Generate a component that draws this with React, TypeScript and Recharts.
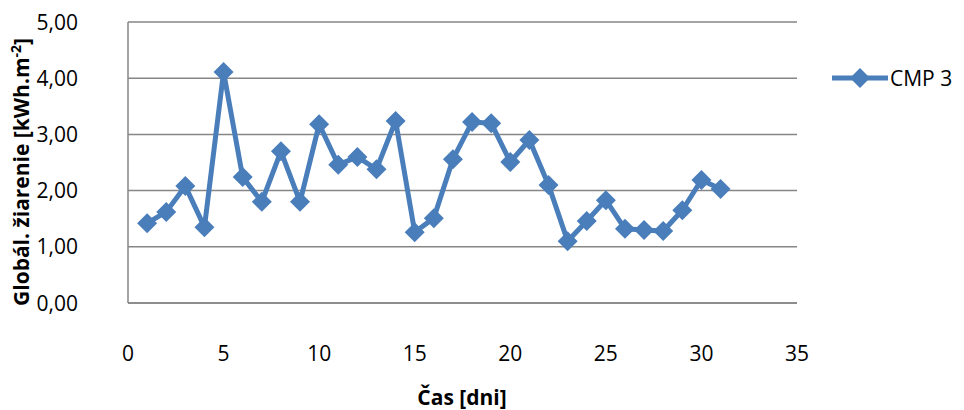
import { CartesianGrid, Line, LineChart, XAxis, YAxis } from "recharts"

const days = [
  1, 2, 3, 4, 5, 6, 7, 8, 9, 10, 11, 12, 13, 14, 15, 16, 17, 18, 19, 20, 21, 22, 23, 24, 25, 26,
  27, 28, 29, 30, 31,
]

const cmp3 = [
  1.42, 1.62, 2.08, 1.35, 4.11, 2.24, 1.8, 2.7, 1.8, 3.18, 2.46, 2.6, 2.38, 3.24, 1.26, 1.51,
  2.56, 3.22, 3.2, 2.51, 2.9, 2.1, 1.1, 1.46, 1.83, 1.32, 1.3, 1.28, 1.65, 2.19, 2.03,
]

const xTicks = [0, 5, 10, 15, 20, 25, 30, 35]
const yTicks = [0, 1, 2, 3, 4, 5]

const data = days.map((d, i) => ({ day: d, value: cmp3[i] }))

const BLUE = "#4a7ebb"
const GRID = "#868686"
const FONT = "'Open Sans', sans-serif"
const FS = 21

const fmt = (v: number) => v.toFixed(2).replace(".", ",")

function Diamond(props: any) {
  const { cx, cy } = props
  if (cx == null || cy == null) return null
  const r = 10
  return (
    <polygon
      points={`${cx},${cy - r} ${cx + r},${cy} ${cx},${cy + r} ${cx - r},${cy}`}
      fill={BLUE}
    />
  )
}

function YTick(props: any) {
  const { x, y, payload } = props
  return (
    <text x={x - 42} y={y} dy={7.5} textAnchor="end" fontSize={FS} fill="#000" fontFamily={FONT}>
      {fmt(payload.value)}
    </text>
  )
}

function XTick(props: any) {
  const { x, y, payload } = props
  return (
    <text x={x} y={y} dy={50} textAnchor="middle" fontSize={FS} fill="#000" fontFamily={FONT}>
      {payload.value}
    </text>
  )
}

function LegendBox() {
  return (
    <svg width={134} height={30} style={{ position: "absolute", left: 830, top: 63 }}>
      <line x1={2} y1={15} x2={58} y2={15} stroke={BLUE} strokeWidth={5} />
      <polygon points="30,5 40,15 30,25 20,15" fill={BLUE} />
      <text x={60} y={23} fontSize={FS} fill="#000" fontFamily={FONT}>
        CMP 3
      </text>
    </svg>
  )
}

export default function App() {
  return (
    <div style={{ position: "absolute", left: 0, top: 0, width: 964, height: 410, background: "#fff" }}>
      <LineChart width={964} height={410} data={data} margin={{ top: 22, right: 167, bottom: 0, left: 0 }}>
        <CartesianGrid vertical={false} stroke={GRID} strokeWidth={1.5} />
        <XAxis
          dataKey="day"
          type="number"
          domain={[0, 35]}
          ticks={xTicks}
          height={107}
          stroke={GRID}
          strokeWidth={1.5}
          tickLine={false}
          tick={<XTick />}
          interval={0}
          label={{
            content: () => (
              <text x={462} y={405} textAnchor="middle" fontSize={FS} fontWeight="bold" fill="#000" fontFamily={FONT}>
                Čas [dni]
              </text>
            ),
          }}
        />
        <YAxis
          type="number"
          domain={[0, 5]}
          ticks={yTicks}
          width={128}
          stroke={GRID}
          strokeWidth={1.5}
          tickLine={false}
          tick={<YTick />}
          interval={0}
          label={{
            content: () => (
              <text
                transform="translate(29,172) rotate(-90)"
                textAnchor="middle"
                fontSize={FS}
                fontWeight="bold"
                fill="#000"
                fontFamily={FONT}
              >
                Globál. žiarenie [kWh.m
                <tspan dy={-8} fontSize={14}>
                  -2
                </tspan>
                <tspan dy={8}>]</tspan>
              </text>
            ),
          }}
        />
        <Line
          type="linear"
          dataKey="value"
          name="CMP 3"
          stroke={BLUE}
          strokeWidth={5}
          dot={<Diamond />}
          activeDot={false}
          isAnimationActive={false}
        />
      </LineChart>
      <LegendBox />
    </div>
  )
}
